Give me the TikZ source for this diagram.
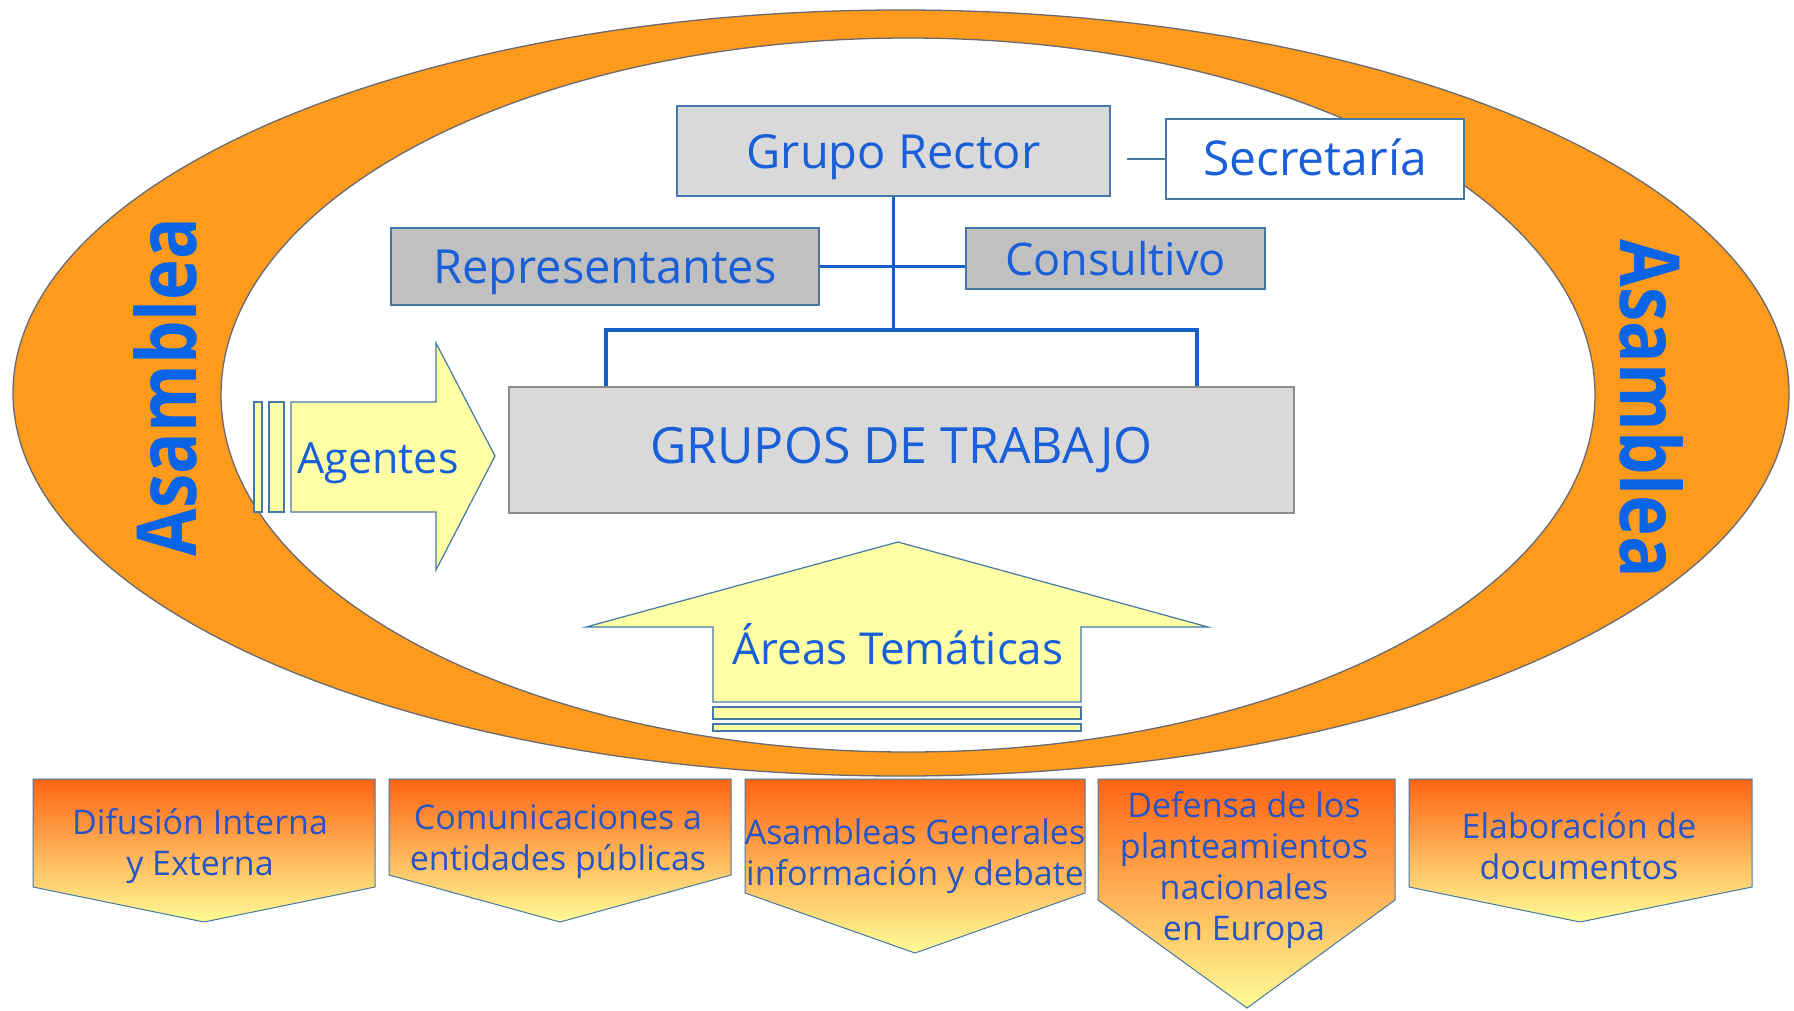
\documentclass[tikz,border=0pt]{standalone}
\usepackage{fontspec}
\setmainfont{Open Sans}
\usetikzlibrary{calc}
\definecolor{ringorange}{RGB}{255,155,28}
\definecolor{ringline}{RGB}{105,105,115}
\definecolor{txtblue}{RGB}{25,95,215}
\definecolor{bottxt}{RGB}{40,85,195}
\definecolor{asblue}{RGB}{10,100,230}
\definecolor{boxline}{RGB}{70,120,165}
\definecolor{lgray}{RGB}{217,217,217}
\definecolor{mgray}{RGB}{192,192,192}
\definecolor{ggray}{RGB}{140,140,140}
\definecolor{linkblue}{RGB}{20,95,200}
\definecolor{pyellow}{RGB}{255,255,165}
\definecolor{topor}{RGB}{255,100,20}
\definecolor{botyel}{RGB}{255,252,150}
\tikzset{
  orgbox/.style={draw=boxline, line width=1.3pt, inner sep=0pt, text=txtblue},
  link/.style={draw=linkblue, line width=3.2pt},
  yarrow/.style={fill=pyellow, draw=boxline, line width=1.2pt},
  chev/.style={top color=topor, bottom color=botyel, draw=boxline, line width=1pt},
  chevtxt/.style={text=bottxt, align=center, inner sep=0pt, font=\fontsize{34}{41}\selectfont},
  asam/.style={text=asblue, inner sep=0pt, font=\fontsize{69}{80}\selectfont\bfseries}
}
\begin{document}
\begin{tikzpicture}[x=1pt,y=-1pt]
\useasboundingbox (0,0) rectangle (1794,1010);
\fill[white] (0,0) rectangle (1794,1010);
% ring
\fill[ringorange, even odd rule] (901,393) ellipse [x radius=888pt, y radius=383pt]
  (908,395) ellipse [x radius=687pt, y radius=357pt];
\draw[ringline, line width=1.3pt] (901,393) ellipse [x radius=888pt, y radius=383pt];
\draw[ringline, line width=1.3pt] (908,395) ellipse [x radius=687pt, y radius=357pt];
\node[asam, rotate=90] (asl) at (165,387) {\scalebox{1}[1.2]{Asamblea}};
\node[asam, rotate=-90] (asr) at (1652,409) {\scalebox{1}[1.2]{Asamblea}};
% boxes
\node[orgbox, fill=lgray, minimum width=433pt, minimum height=90pt, text depth=0pt,
  font=\fontsize{47}{56}\selectfont] (gr) at (893.5,151) {Grupo Rector};
\node[orgbox, fill=white, minimum width=298pt, minimum height=80pt, text height=34pt,
  font=\fontsize{48}{56}\selectfont] (sec) at (1315,159) {Secretaría};
\node[orgbox, fill=mgray, minimum width=428pt, minimum height=77pt, text depth=0pt,
  font=\fontsize{47}{56}\selectfont] (rep) at (605,266.5) {Representantes};
\node[orgbox, fill=mgray, minimum width=299pt, minimum height=61pt,
  font=\fontsize{45}{54}\selectfont] (con) at (1115.5,258.5) {Consultivo};
\node[orgbox, draw=ggray, fill=lgray, minimum width=785pt, minimum height=126pt,
  font=\fontsize{50}{60}\selectfont] (gt) at (901.5,450) {GRUPOS DE TRABAJO};
% connectors
\coordinate (sl) at (1127,159);
\draw[boxline, line width=1.3pt] (sl) -- (sec.west);
\coordinate (bl) at (606,330);
\coordinate (br) at (1197,330);
\draw[link] (gr.south) -- (gr.south |- bl);
\draw[link] (rep.east) -- (rep.east -| con.west);
\draw[link] (gt.north -| bl) -- (bl) -- (br) -- (gt.north -| br);
% Agentes arrow
\draw[yarrow] (254,402) rectangle (262,512);
\draw[yarrow] (269,402) rectangle (284,512);
\draw[yarrow] (291,402) -- (436,402) -- (436,343) -- (495,456) -- (436,570)
  -- (436,512) -- (291,512) -- cycle;
\node[text=txtblue, inner sep=0pt, text depth=0pt, font=\fontsize{43}{52}\selectfont] (ag) at (378,458) {Agentes};
% Areas arrow
\draw[yarrow] (713,707) rectangle (1081,719);
\draw[yarrow] (713,724) rectangle (1081,731);
\draw[yarrow] (713,702) -- (713,627) -- (586,627) -- (898,542) -- (1208,627)
  -- (1081,627) -- (1081,702) -- cycle;
\node[text=txtblue, inner sep=0pt, font=\fontsize{44}{52}\selectfont] (at) at (898,644) {Áreas Temáticas};
% bottom chevrons
\shade[chev] (33,779) -- (375,779) -- (375,887) -- (204,922) -- (33,887) -- cycle;
\shade[chev] (389,779) -- (731,779) -- (731,875) -- (560,922) -- (389,875) -- cycle;
\shade[chev] (745,779) -- (1085,779) -- (1085,893) -- (915,953) -- (745,893) -- cycle;
\shade[chev] (1098,779) -- (1395,779) -- (1395,900) -- (1247,1008) -- (1098,900) -- cycle;
\shade[chev] (1409,779) -- (1752,779) -- (1752,887) -- (1580,922) -- (1409,887) -- cycle;
\node[chevtxt] (c1) at (200,846) {Difusión Interna\\y Externa};
\node[chevtxt] (c2) at (558,842) {Comunicaciones a\\entidades públicas};
\node[chevtxt] (c3) at (915,856) {Asambleas Generales\\información y debate};
\node[chevtxt] (c4) at (1244,870) {Defensa de los\\planteamientos\\nacionales\\en Europa};
\node[chevtxt] (c5) at (1579,846) {Elaboración de\\documentos};
\end{tikzpicture}
\end{document}
